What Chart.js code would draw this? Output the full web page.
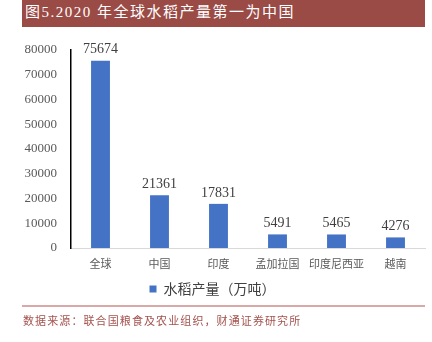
<!DOCTYPE html>
<html>
<head>
<meta charset="utf-8">
<script src="https://cdn.jsdelivr.net/npm/chart.js"></script>
<style>
  body { margin: 0; background: #fff; width: 432px; height: 342px; overflow: hidden; position: relative; }
  #titulo {
    position: absolute; left: 22px; top: 0; width: 403px; height: 27px;
    background: #9B4B46; color: #fff;
    font: 15px 'Liberation Serif', 'Noto Sans CJK SC'; line-height: 25px;
    padding-left: 3px; box-sizing: border-box; letter-spacing: 1.5px;
  }
  #linea { position: absolute; left: 22px; top: 305px; width: 403px; height: 2px; background: #D8A9A6; }
  #fuente {
    position: absolute; left: 23px; top: 312px;
    font: 11px 'Noto Sans CJK SC'; color: #A4524D; letter-spacing: 1.1px;
  }
  #wrap { position: absolute; left: 0; top: 0; width: 432px; height: 342px; }
</style>
</head>
<body>
<div id="wrap"><canvas id="grafico" width="432" height="342"></canvas></div>
<div id="titulo">图5.2020 年全球水稻产量第一为中国</div>
<div id="linea"></div>
<div id="fuente">数据来源：联合国粮食及农业组织，财通证券研究所</div>
<script>
const paises = ["全球", "中国", "印度", "孟加拉国", "印度尼西亚", "越南"];
const produccion = [75674, 21361, 17831, 5491, 5465, 4276];
const serieNombre = "水稻产量（万吨）";

const fuenteNum = "'Liberation Serif', 'Noto Sans CJK SC'";

// etiquetas de valor encima de cada barra
const etiquetasValor = {
    id: "etiquetasValor",
    afterDatasetsDraw(chart) {
        const ctx = chart.ctx;
        const meta = chart.getDatasetMeta(0);
        ctx.save();
        ctx.font = "14px " + fuenteNum;
        ctx.fillStyle = "#404040";
        ctx.textAlign = "center";
        ctx.textBaseline = "bottom";
        meta.data.forEach((barra, i) => {
            ctx.fillText(String(produccion[i]), barra.x, barra.y - 4);
        });
        ctx.restore();
    }
};

new Chart(document.getElementById("grafico"), {
    type: "bar",
    data: {
        labels: paises,
        datasets: [{
            label: serieNombre,
            data: produccion,
            backgroundColor: "#4472C4",
            barPercentage: 0.64,
            categoryPercentage: 0.5
        }]
    },
    options: {
        responsive: false,
        animation: false,
        layout: { padding: { left: 0, right: 7, top: 50, bottom: 36 } },
        plugins: {
            legend: {
                position: "bottom",
                labels: {
                    boxWidth: 7, boxHeight: 7, padding: 6,
                    color: "#404040",
                    font: { family: "'Noto Sans CJK SC'", size: 14 }
                }
            },
            tooltip: { enabled: false }
        },
        scales: {
            x: {
                grid: { display: false, drawTicks: false },
                border: { color: "#D9D9D9", width: 1 },
                ticks: {
                    color: "#595959", padding: 9,
                    maxRotation: 0, minRotation: 0, autoSkip: false,
                    font: { family: "'Noto Sans CJK SC'", size: 11 }
                },
                afterFit: s => { s.height = 28; }
            },
            y: {
                min: 0, max: 80000,
                grid: { display: false, drawTicks: false },
                border: { color: "#000", width: 1.5 },
                ticks: {
                    stepSize: 10000, color: "#595959", padding: 14,
                    font: { family: fuenteNum, size: 13 },
                    callback: v => String(v)
                },
                afterFit: s => { s.width = 71; }
            }
        }
    },
    plugins: [etiquetasValor]
});
</script>
</body>
</html>
